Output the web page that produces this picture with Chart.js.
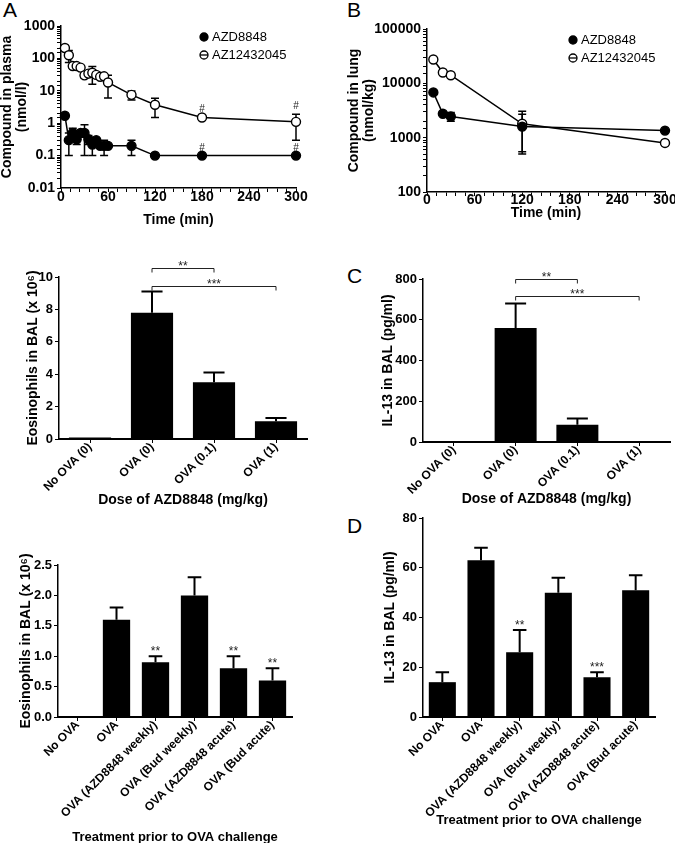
<!DOCTYPE html>
<html>
<head>
<meta charset="utf-8">
<script src="https://cdn.jsdelivr.net/npm/chart.js@4.4.1/dist/chart.umd.min.js"></script>
<style>
  body { margin: 0; width: 675px; height: 843px; position: relative; overflow: hidden; background: #fff; }
  canvas { position: absolute; }
  .letter { position: absolute; font: 21px/1 "Liberation Sans", Arial, sans-serif; color: #000; }
</style>
</head>
<body>
<div class="letter" style="left:3px;top:-1px">A</div>
<div class="letter" style="left:347px;top:-1px">B</div>
<div class="letter" style="left:347px;top:265px">C</div>
<div class="letter" style="left:347px;top:515px">D</div>

<canvas id="plasmaChart" width="322" height="221" style="left:0px;top:8px"></canvas>
<canvas id="lungChart" width="328" height="214" style="left:347px;top:8px"></canvas>
<canvas id="doseEosChart" width="297" height="259" style="left:25px;top:250px"></canvas>
<canvas id="doseIL13Chart" width="295" height="258" style="left:380px;top:250px"></canvas>
<canvas id="treatEosChart" width="304" height="305" style="left:18px;top:540px"></canvas>
<canvas id="treatIL13Chart" width="293" height="328" style="left:382px;top:500px"></canvas>

<script>
// A: plasma levels
const plasmaTimes = [5, 10, 15, 20, 25, 30, 35, 40, 45, 50, 55, 60, 90, 120, 180, 300];
const plasmaAZD8848 = [1.7, 0.3, 0.5, 0.32, 0.5, 0.5, 0.32, 0.22, 0.3, 0.2, 0.2, 0.2, 0.2, 0.1, 0.1, 0.1];
const plasmaAZD8848Err = [0, 0.2, 0.2, 0.1, 0, 0.4, 0.1, 0.12, 0.05, 0, 0.1, 0, 0.1, 0, 0, 0];
const plasmaAZ12432045 = [210, 125, 58, 58, 52, 30, 34, 36, 31, 27, 28, 18, 7.5, 3.7, 1.5, 1.1];
const plasmaAZ12432045Err = [0, 50, 8, 0, 0, 5, 0, 20, 5, 0, 4, 12, 2.3, 2.2, 0, 0.8];
const plasmaFlagTimes = [180, 300];

// B: lung levels
const lungTimes = [8, 20, 30, 120, 300];
const lungAZD8848 = [6800, 2750, 2450, 1600, 1350];
const lungAZD8848Err = [0, 0, 450, 1100, 0];
const lungAZ12432045 = [27500, 15800, 14100, 1800, 800];
const lungAZ12432045Err = [0, 0, 0, 1250, 80];

// dose response
const doseLabels = ["No OVA (0)", "OVA (0)", "OVA (0.1)", "OVA (1)"];
const doseEosinophils = [0.1, 7.8, 3.5, 1.1];
const doseEosinophilsErr = [0, 1.3, 0.6, 0.2];
const doseIL13 = [0, 560, 85, 0];
const doseIL13Err = [0, 120, 30, 0];

// treatment prior to challenge
const treatLabels = ["No OVA", "OVA", "OVA (AZD8848 weekly)", "OVA (Bud weekly)", "OVA (AZD8848 acute)", "OVA (Bud acute)"];
const treatEosinophils = [0, 1.6, 0.9, 2.0, 0.8, 0.6];
const treatEosinophilsErr = [0, 0.2, 0.1, 0.3, 0.2, 0.2];
const treatEosinophilsStars = ["", "", "**", "", "**", "**"];
const treatIL13 = [14, 63, 26, 50, 16, 51];
const treatIL13Err = [4, 5, 9, 6, 2, 6];
const treatIL13Stars = ["", "", "**", "", "***", ""];

const FONT = '"Liberation Sans", Arial, sans-serif';
Chart.defaults.font.family = FONT;
Chart.defaults.color = '#000';
Chart.defaults.animation = false;

// error bars, drawn under the points
const errorBarPlugin = {
  id: 'errorBars',
  beforeDatasetsDraw(chart, args, opts) {
    const ctx = chart.ctx;
    const ys = chart.scales.y;
    chart.data.datasets.forEach((ds, di) => {
      if (!ds.errors) return;
      chart.getDatasetMeta(di).data.forEach((el, i) => {
        const err = ds.errors[i];
        if (!err) return;
        const raw = ds.data[i];
        const v = typeof raw === 'object' ? raw.y : raw;
        const top = ys.getPixelForValue(v + err);
        const bottom = opts.upOnly ? el.y : ys.getPixelForValue(Math.max(v - err, ys.min));
        const cap = opts.upOnly ? el.width / 2 : opts.cap;
        ctx.save();
        ctx.strokeStyle = '#000';
        ctx.lineWidth = opts.lineWidth || 1.5;
        ctx.beginPath();
        ctx.moveTo(el.x, top);
        ctx.lineTo(el.x, bottom);
        ctx.moveTo(el.x - cap / 2, top);
        ctx.lineTo(el.x + cap / 2, top);
        if (!opts.upOnly) {
          ctx.moveTo(el.x - cap / 2, bottom);
          ctx.lineTo(el.x + cap / 2, bottom);
        }
        ctx.stroke();
        ctx.restore();
      });
    });
  }
};

// significance marks, brackets and # flags
const notesPlugin = {
  id: 'notes',
  afterDatasetsDraw(chart, args, opts) {
    const ctx = chart.ctx;
    const xs = chart.scales.x, ys = chart.scales.y;
    ctx.save();
    ctx.fillStyle = '#222';
    ctx.strokeStyle = '#222';
    ctx.lineWidth = 1;
    ctx.textAlign = 'center';
    ctx.textBaseline = 'alphabetic';
    ctx.font = '12px ' + FONT;
    (opts.brackets || []).forEach(b => {
      const x1 = xs.getPixelForValue(b.from);
      const x2 = xs.getPixelForValue(b.to);
      const y = Math.round(ys.getPixelForValue(b.level)) + 0.5;
      ctx.beginPath();
      ctx.moveTo(x1, y + 4);
      ctx.lineTo(x1, y);
      ctx.lineTo(x2, y);
      ctx.lineTo(x2, y + 4);
      ctx.stroke();
      ctx.fillText(b.text, (x1 + x2) / 2, y + 1);
    });
    if (opts.stars) {
      const ds = chart.data.datasets[0];
      chart.getDatasetMeta(0).data.forEach((el, i) => {
        if (!opts.stars[i]) return;
        const top = ys.getPixelForValue(ds.data[i] + (ds.errors[i] || 0));
        ctx.fillText(opts.stars[i], el.x, top - 1);
      });
    }
    if (opts.flags) {
      ctx.font = '10px ' + FONT;
      chart.data.datasets.forEach((ds, di) => {
        chart.getDatasetMeta(di).data.forEach((el, i) => {
          if (!opts.flags.includes(ds.data[i].x)) return;
          const top = ys.getPixelForValue(ds.data[i].y + (ds.errors[i] || 0));
          ctx.fillText('#', el.x, Math.min(el.y, top) - 5);
        });
      });
    }
    ctx.restore();
  }
};

// legend inside the plot, top right
const cornerLegendPlugin = {
  id: 'cornerLegend',
  afterDraw(chart, args, opts) {
    if (!opts.show) return;
    const { ctx, chartArea } = chart;
    const x = chartArea.right - opts.right;
    ctx.save();
    ctx.font = '13px ' + FONT;
    ctx.textBaseline = 'middle';
    chart.data.datasets.forEach((ds, i) => {
      const y = chartArea.top + opts.top + i * opts.gap;
      ctx.strokeStyle = '#000';
      ctx.lineWidth = 1.3;
      ctx.beginPath();
      ctx.arc(x, y, 4, 0, Math.PI * 2);
      ctx.fillStyle = ds.pointBackgroundColor;
      ctx.fill();
      ctx.stroke();
      ctx.beginPath();
      ctx.moveTo(x - 4, y);
      ctx.lineTo(x + 4, y);
      ctx.stroke();
      ctx.fillStyle = '#000';
      ctx.fillText(ds.label, x + 8, y);
    });
    ctx.restore();
  }
};

function fixSize(size) {
  return scale => {
    if (scale.isHorizontal()) scale.height = size;
    else scale.width = size;
  };
}

function powerLabel(value) {
  const e = Math.log10(value);
  return Math.abs(e - Math.round(e)) < 1e-6 ? String(+value.toPrecision(6)) : '';
}

const pkTickFont = { size: 14, weight: 'bold', lineHeight: 1 };
const tickFont = { size: 13, weight: 'bold', lineHeight: 1 };
const titleFont = { size: 14, weight: 'bold', lineHeight: 1.2 };
const axisGrid = { drawOnChartArea: false, drawTicks: true, tickLength: 4, color: '#000', lineWidth: 1 };
const axisBorder = { color: '#000', width: 1.5 };

function pkDataset(label, times, values, errors, filled) {
  return {
    label,
    data: times.map((t, i) => ({ x: t, y: values[i] })),
    errors,
    borderColor: '#000',
    borderWidth: 1.5,
    pointRadius: 4.5,
    pointBorderWidth: 1.4,
    pointBorderColor: '#000',
    pointBackgroundColor: filled ? '#000' : '#fff',
    tension: 0,
    clip: false
  };
}

function pkChart(id, datasets, yMin, yMax, yTitle, box, flags) {
  return new Chart(document.getElementById(id), {
    type: 'line',
    data: { datasets },
    options: {
      responsive: false,
      layout: { padding: { top: box.top, right: box.right, left: 0, bottom: 0 } },
      scales: {
        x: {
          type: 'linear', min: 0, max: 300,
          afterFit: fixSize(box.xh),
          grid: axisGrid, border: axisBorder,
          ticks: { stepSize: 12, autoSkip: false, maxRotation: 0, padding: box.tickPad, font: pkTickFont,
                   callback: v => (v % 60 === 0 ? v : '') },
          title: { display: true, text: 'Time (min)', font: titleFont, padding: 0 }
        },
        y: {
          type: 'logarithmic', min: yMin, max: yMax,
          afterFit: fixSize(box.yw),
          grid: axisGrid, border: axisBorder,
          ticks: { autoSkip: false, padding: 2, font: pkTickFont, callback: powerLabel },
          title: { display: true, text: yTitle, font: { size: 14, weight: 'bold', lineHeight: 1.05 }, padding: 0 }
        }
      },
      plugins: {
        legend: { display: false },
        tooltip: { enabled: false },
        errorBars: { cap: 8, lineWidth: 1.5 },
        notes: { flags },
        cornerLegend: { show: true, right: 92, top: 11, gap: 18 }
      }
    },
    plugins: [errorBarPlugin, notesPlugin, cornerLegendPlugin]
  });
}

function barChart(id, labels, values, errors, yMax, step, yTitle, xTitle, box, notes, decimals) {
  return new Chart(document.getElementById(id), {
    type: 'bar',
    data: {
      labels,
      datasets: [{
        data: values,
        errors,
        backgroundColor: '#000',
        borderWidth: 0,
        categoryPercentage: box.bar,
        barPercentage: 1
      }]
    },
    options: {
      responsive: false,
      layout: { padding: { top: box.top, right: box.right, left: 0, bottom: 0 } },
      scales: {
        x: {
          afterFit: fixSize(box.xh),
          grid: { ...axisGrid, offset: false },
          border: { color: '#000', width: 2 },
          ticks: { autoSkip: false, minRotation: 45, maxRotation: 45, padding: -3,
                   font: { size: 12, weight: 'bold' } },
          title: { display: true, text: xTitle, font: { ...titleFont, size: box.xTitleSize || 14 }, padding: 0 }
        },
        y: {
          min: 0, max: yMax,
          afterFit: fixSize(box.yw),
          grid: axisGrid, border: axisBorder,
          ticks: { stepSize: step, padding: 2, font: tickFont,
                   callback: v => (decimals ? v.toFixed(decimals) : v) },
          title: { display: true, text: yTitle, font: titleFont, padding: 0 }
        }
      },
      plugins: {
        legend: { display: false },
        tooltip: { enabled: false },
        errorBars: { upOnly: true, lineWidth: 2 },
        notes
      }
    },
    plugins: [errorBarPlugin, notesPlugin]
  });
}

pkChart('plasmaChart', [
  pkDataset('AZD8848', plasmaTimes, plasmaAZD8848, plasmaAZD8848Err, true),
  pkDataset('AZ12432045', plasmaTimes, plasmaAZ12432045, plasmaAZ12432045Err, false)
], 0.01, 1000, ['Compound in plasma', '(nmol/l)'],
  { top: 18, right: 26, yw: 61, xh: 41, tickPad: -2 }, plasmaFlagTimes);

pkChart('lungChart', [
  pkDataset('AZD8848', lungTimes, lungAZD8848, lungAZD8848Err, true),
  pkDataset('AZ12432045', lungTimes, lungAZ12432045, lungAZ12432045Err, false)
], 100, 100000, ['Compound in lung', '(nmol/kg)'],
  { top: 21, right: 10, yw: 80, xh: 30, tickPad: -3 }, []);

barChart('doseEosChart', doseLabels, doseEosinophils, doseEosinophilsErr, 10, 2,
  'Eosinophils in BAL (x 10\u2076)', 'Dose of AZD8848 (mg/kg)',
  { top: 27, right: 15, yw: 34, xh: 70, bar: 0.68 },
  { brackets: [{ from: 1, to: 2, level: 10.55, text: '**' }, { from: 1, to: 3, level: 9.45, text: '***' }] });

barChart('doseIL13Chart', doseLabels, doseIL13, doseIL13Err, 800, 200,
  'IL-13 in BAL (pg/ml)', 'Dose of AZD8848 (mg/kg)',
  { top: 29, right: 5, yw: 43, xh: 66, bar: 0.68 },
  { brackets: [{ from: 1, to: 2, level: 800, text: '**' }, { from: 1, to: 3, level: 715, text: '***' }] });

barChart('treatEosChart', treatLabels, treatEosinophils, treatEosinophilsErr, 2.5, 0.5,
  'Eosinophils in BAL (x 10\u2076)', 'Treatment prior to OVA challenge',
  { top: 25, right: 30, yw: 40, xh: 128, bar: 0.7, xTitleSize: 13 },
  { stars: treatEosinophilsStars }, 1);

barChart('treatIL13Chart', treatLabels, treatIL13, treatIL13Err, 80, 20,
  'IL-13 in BAL (pg/ml)', 'Treatment prior to OVA challenge',
  { top: 18, right: 20, yw: 41, xh: 111, bar: 0.7, xTitleSize: 13 },
  { stars: treatIL13Stars });
</script>
</body>
</html>
